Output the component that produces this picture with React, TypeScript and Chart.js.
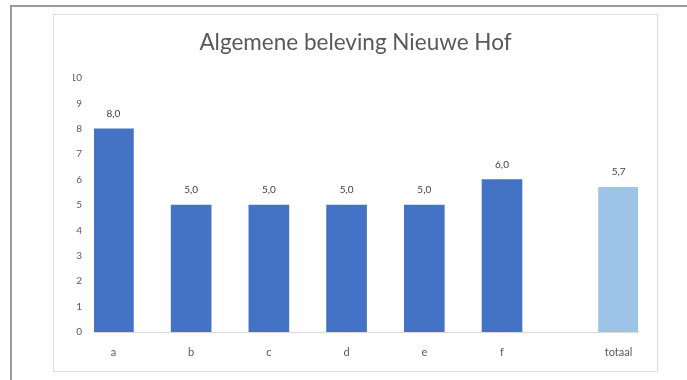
import React, { useEffect, useRef } from "react";
import { Chart, registerables } from "chart.js";

Chart.register(...registerables);

const title = "Algemene beleving Nieuwe Hof";
const categories = ["a", "b", "c", "d", "e", "f"];
const values = [8.0, 5.0, 5.0, 5.0, 5.0, 6.0];
const totalLabel = "totaal";
const totalValue = 5.7;
const yTicks = [0, 1, 2, 3, 4, 5, 6, 7, 8, 9, 10];

const DARK = "#4472C4";
const LIGHT = "#9DC3E6";
const FONT = "Lato";

export default function App() {
  const ref = useRef<HTMLCanvasElement | null>(null);

  useEffect(() => {
    if (!ref.current) return;
    // Build half-step slots: each category followed by an empty slot, then an extra gap before total
    const labels: string[] = [];
    const data: (number | null)[] = [];
    const colors: string[] = [];
    categories.forEach((c, i) => {
      labels.push(c);
      data.push(values[i]);
      colors.push(DARK);
      labels.push("");
      data.push(null);
      colors.push(DARK);
    });
    labels.push("");
    data.push(null);
    colors.push(DARK);
    labels.push(totalLabel);
    data.push(totalValue);
    colors.push(LIGHT);

    const dataLabels = {
      id: "dataLabels",
      afterDatasetsDraw(chart: any) {
        const ctx = chart.ctx;
        const meta = chart.getDatasetMeta(0);
        ctx.save();
        ctx.fillStyle = "#404040";
        ctx.font = `10px ${FONT}`;
        ctx.textAlign = "center";
        ctx.textBaseline = "middle";
        meta.data.forEach((el: any, i: number) => {
          const v = data[i];
          if (v === null || v === undefined) return;
          ctx.fillText(v.toFixed(1).replace(".", ","), el.x, el.y - 15);
        });
        ctx.restore();
      },
    };

    const chart = new Chart(ref.current, {
      type: "bar",
      data: {
        labels,
        datasets: [
          {
            data,
            backgroundColor: colors,
            barThickness: 40,
          },
        ],
      },
      options: {
        animation: false,
        responsive: false,
        maintainAspectRatio: false,
        layout: { padding: { left: 19, right: 19, top: 0, bottom: 0 } },
        plugins: {
          legend: { display: false },
          tooltip: { enabled: false },
          title: {
            display: true,
            text: title,
            color: "#595959",
            font: { family: FONT, size: 22.5, weight: "normal" },
            padding: { top: 14, bottom: 22 },
          },
        },
        scales: {
          x: {
            grid: { display: false, drawTicks: false },
            border: { display: true, color: "#d9d9d9" },
            ticks: {
              color: "#595959",
              font: { family: FONT, size: 11 },
              padding: 14,
              autoSkip: false,
              maxRotation: 0,
            },
            afterFit: (s: any) => {
              s.height = 39;
            },
          },
          y: {
            min: 0,
            max: 10,
            grid: { display: false, drawTicks: false },
            border: { display: false },
            afterBuildTicks: (s: any) => {
              s.ticks = yTicks.map((v) => ({ value: v }));
            },
            ticks: {
              color: "#595959",
              font: { family: FONT, size: 10 },
              padding: 12,
            },
            afterFit: (s: any) => {
              s.width = 21;
            },
          },
        },
      },
      plugins: [dataLabels],
    });
    return () => chart.destroy();
  }, []);

  return (
    <div
      style={{
        position: "absolute",
        left: 0,
        top: 0,
        width: 687,
        height: 380,
        background: "#fff",
        overflow: "hidden",
      }}
    >
      <div
        style={{
          position: "absolute",
          left: 10,
          top: 5,
          width: 700,
          height: 400,
          borderTop: "2px solid #9a9a9a",
          borderLeft: "2px solid #9a9a9a",
        }}
      />
      <div
        style={{
          position: "absolute",
          left: 53,
          top: 14,
          width: 605,
          height: 358,
          border: "1px solid #dedede",
          boxSizing: "border-box",
        }}
      >
        <canvas
          ref={ref}
          width={603}
          height={356}
          style={{ display: "block", width: 603, height: 356 }}
        />
      </div>
    </div>
  );
}
